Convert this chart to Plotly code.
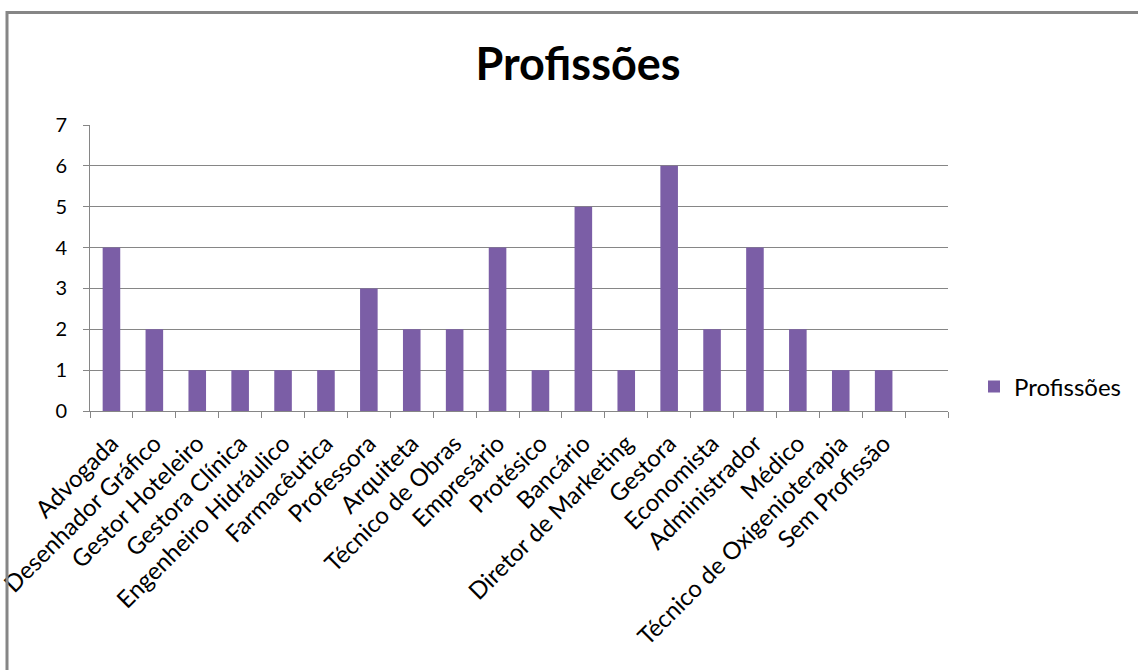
import plotly.graph_objects as go

categories = ["Advogada", "Desenhador Gráfico", "Gestor Hoteleiro", "Gestora Clínica",
              "Engenheiro Hidráulico", "Farmacêutica", "Professora", "Arquiteta",
              "Técnico de Obras", "Empresário", "Protésico", "Bancário",
              "Diretor de Marketing", "Gestora", "Economista", "Administrador",
              "Médico", "Técnico de Oxigenioterapia", "Sem Profissão", " "]
values = [4, 2, 1, 1, 1, 1, 3, 2, 2, 4, 1, 5, 1, 6, 2, 4, 2, 1, 1, None]
series_name = "Profissões"
title_text = "Profissões"

FONT = "Lato, 'Open Sans', sans-serif"
GRID = "#868686"
BAR = "#7B5EA6"

W, H = 1138, 670
L, R, T, B = 90, 948, 125, 411
pw, ph = R - L, B - T

def px(x):
    return (x - L) / pw

def py(y):
    return (B - y) / ph

fig = go.Figure()
fig.add_trace(go.Bar(x=categories, y=values, name=series_name,
                     marker=dict(color=BAR, line=dict(width=0)),
                     showlegend=True))

fig.update_layout(
    width=W, height=H,
    margin=dict(l=L, r=W - R, t=T, b=H - B, pad=0, autoexpand=False),
    paper_bgcolor="white", plot_bgcolor="white",
    bargap=0.59,
    font=dict(family=FONT, color="black"),
    title=dict(text="<b>" + title_text + "</b>", x=578 / W, xref="container", xanchor="center",
               y=1 - 64 / H, yref="container", yanchor="middle",
               font=dict(size=45, family=FONT, color="black")),
    showlegend=True,
    legend=dict(x=px(974), y=py(387), xanchor="left", yanchor="middle",
                font=dict(size=24, family=FONT, color="black"),
                bgcolor="rgba(0,0,0,0)", itemwidth=30),
    xaxis=dict(type="category", categoryorder="array", categoryarray=categories,
               showgrid=False, showline=True, linecolor=GRID, linewidth=1,
               ticks="outside", tickson="boundaries", ticklen=6, tickcolor=GRID,
               tickangle=-45, tickfont=dict(size=24, family=FONT, color="black"),
               ticklabelstandoff=8, zeroline=False, automargin=False),
    yaxis=dict(range=[0, 7], dtick=1, tick0=0, showgrid=True, gridcolor=GRID, gridwidth=1,
               showline=True, linecolor=GRID, linewidth=1,
               ticks="outside", ticklen=6, tickcolor=GRID,
               tickfont=dict(size=20, family=FONT, color="black"),
               ticklabelstandoff=12, zeroline=False, automargin=False),
    shapes=[
        dict(type="line", xref="paper", yref="paper", x0=px(7), x1=px(1140),
             y0=py(12.5), y1=py(12.5), line=dict(color=GRID, width=3), layer="above"),
        dict(type="line", xref="paper", yref="paper", x0=px(7), x1=px(7),
             y0=py(11), y1=py(672), line=dict(color=GRID, width=3), layer="above"),
    ],
)

fig.write_html("out.html")
